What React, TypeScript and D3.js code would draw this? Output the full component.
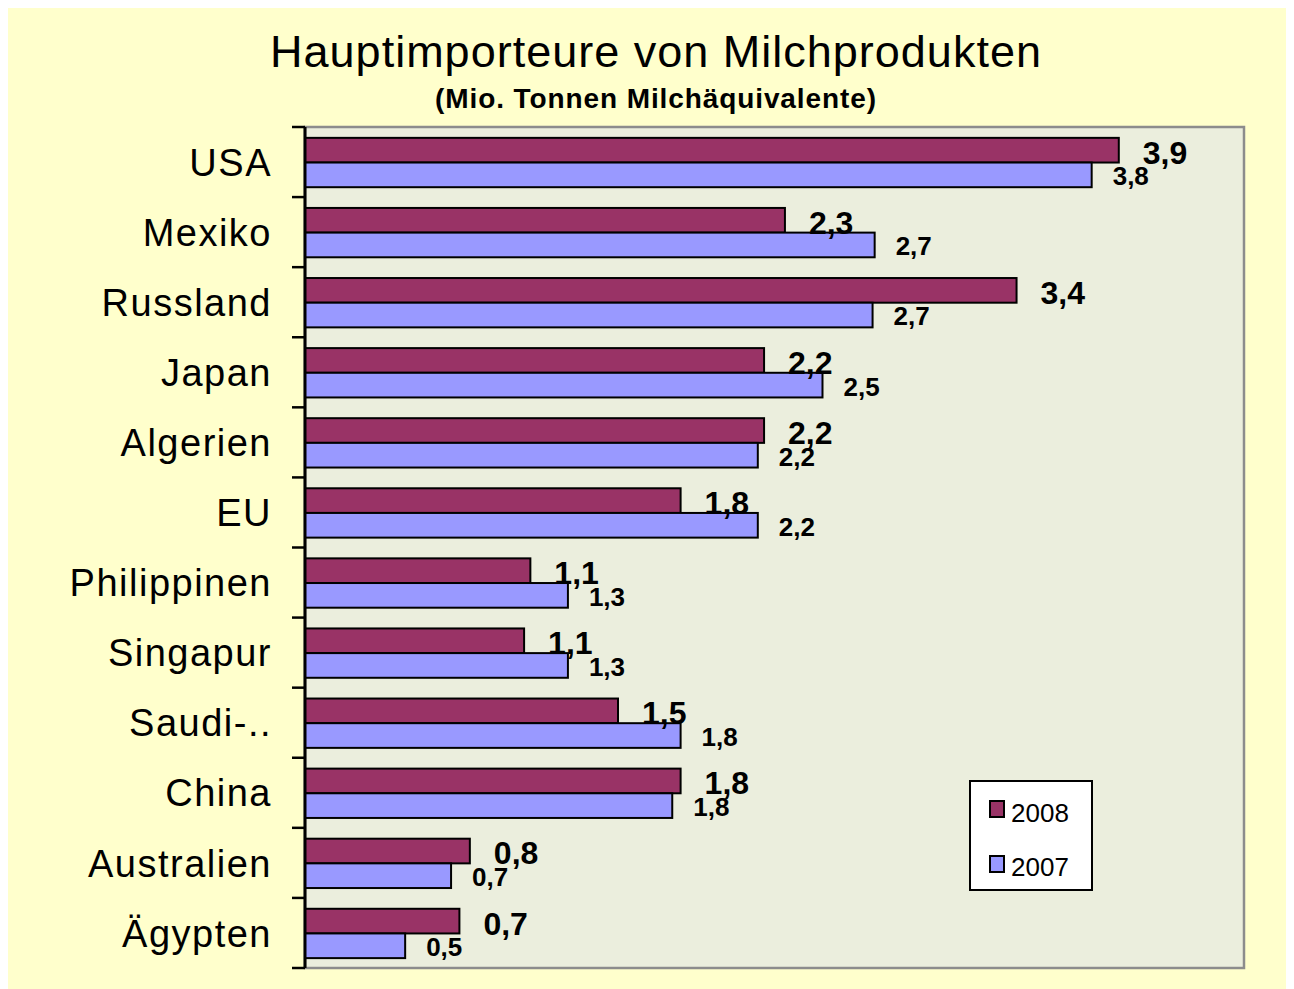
import React from "react";
import * as d3 from "d3";

const categories = ["USA", "Mexiko", "Russland", "Japan", "Algerien", "EU", "Philippinen", "Singapur", "Saudi-..", "China", "Australien", "Ägypten"];
const values2008 = [3.9, 2.3, 3.41, 2.2, 2.2, 1.8, 1.08, 1.05, 1.5, 1.8, 0.79, 0.74];
const values2007 = [3.77, 2.73, 2.72, 2.48, 2.17, 2.17, 1.26, 1.26, 1.8, 1.76, 0.7, 0.48];
const seriesNames = ["2008", "2007"];
const xDomain = [0, 4.5];
const title = "Hauptimporteure von Milchprodukten";
const subtitle = "(Mio. Tonnen Milchäquivalente)";

const FONT = "'Liberation Sans', Arial, sans-serif";
const C2008 = "#993366";
const C2007 = "#9999FF";

export default function App() {
  // page coordinates; svg placed at (8,5)
  const left = 305, right = 1244, top = 127, bottom = 968;
  const x = d3.scaleLinear().domain(xDomain).range([left, right]);
  const y = d3.scaleBand<string>().domain(categories).range([top, bottom]).paddingInner(0).paddingOuter(0);
  const bw = y.bandwidth();
  const off = bw * 0.155;
  const bh = bw * 0.352;
  const fmt = (v: number) => d3.format(".1f")(v).replace(".", ",");
  const ticks = d3.range(categories.length + 1).map((i) => top + i * bw);

  return (
    <svg width={1286} height={984} style={{ display: "block", marginTop: -3 }}>
      <g transform="translate(-8,-5)">
        <rect x={8} y={5} width={1286} height={984} fill="#FFFFCC" />
        <text x={656} y={67} textAnchor="middle" fontFamily={FONT} fontSize={45} letterSpacing={1} fill="#000">{title}</text>
        <text x={656} y={108} textAnchor="middle" fontFamily={FONT} fontSize={28} fontWeight="bold" letterSpacing={0.9} fill="#000">{subtitle}</text>
        <rect x={left} y={top} width={right - left} height={bottom - top} fill="#EBEEDD" stroke="#8C8C8C" strokeWidth={2.5} />
        {categories.map((c, i) => {
          const y0 = y(c)!;
          return (
            <g key={c}>
              <rect x={x(0)} y={y0 + off} width={x(values2008[i]) - x(0)} height={bh} fill={C2008} stroke="#000" strokeWidth={2} />
              <rect x={x(0)} y={y0 + off + bh} width={x(values2007[i]) - x(0)} height={bh} fill={C2007} stroke="#000" strokeWidth={2} />
            </g>
          );
        })}
        <line x1={left} x2={left} y1={top} y2={bottom} stroke="#000" strokeWidth={3} />
        {ticks.map((t, i) => (
          <line key={i} x1={292} x2={left} y1={t} y2={t} stroke="#000" strokeWidth={2.5} />
        ))}
        {categories.map((c) => (
          <text key={c} x={272} y={y(c)! + bw / 2} dy="0.36em" textAnchor="end" fontFamily={FONT} fontSize={38} letterSpacing={1.5} fill="#000">{c}</text>
        ))}
        {categories.map((c, i) => {
          const y0 = y(c)!;
          return (
            <g key={"l" + c}>
              <text x={x(values2008[i]) + 24} y={y0 + off + bh / 2} dy="0.42em" fontFamily={FONT} fontSize={32} fontWeight="bold" fill="#000">{fmt(values2008[i])}</text>
              <text x={x(values2007[i]) + 21} y={y0 + off + bh * 1.5} dy="0.4em" fontFamily={FONT} fontSize={26} fontWeight="bold" fill="#000">{fmt(values2007[i])}</text>
            </g>
          );
        })}
        <g>
          <rect x={970} y={781} width={122} height={109} fill="#fff" stroke="#000" strokeWidth={2} />
          {seriesNames.map((s, i) => (
            <g key={s}>
              <rect x={990} y={801 + i * 55} width={14} height={16} fill={i === 0 ? C2008 : C2007} stroke="#000" strokeWidth={2} />
              <text x={1011} y={822 + i * 54} fontFamily={FONT} fontSize={26} fill="#000">{s}</text>
            </g>
          ))}
        </g>
      </g>
    </svg>
  );
}
